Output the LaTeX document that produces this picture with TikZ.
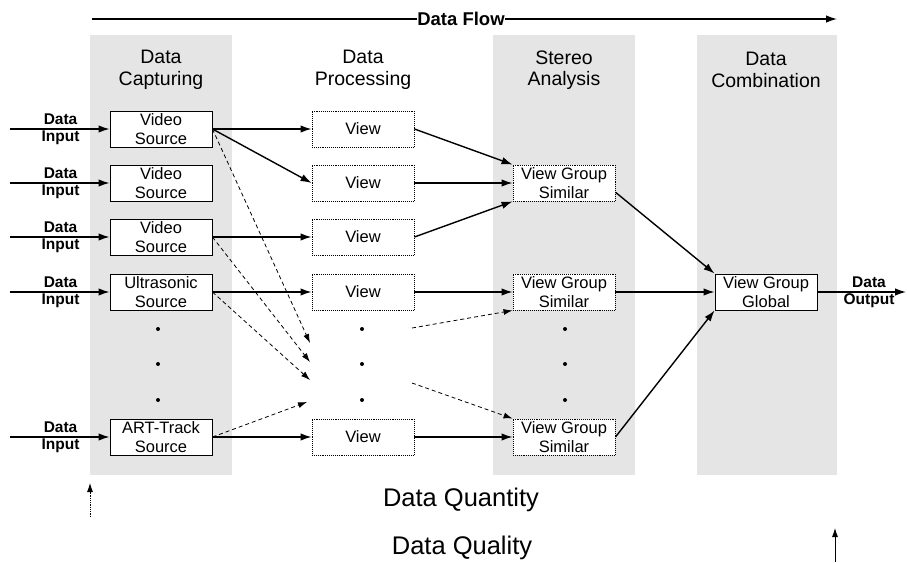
\documentclass[tikz,border=0pt]{standalone}
\usepackage{fontspec}
\setmainfont{Liberation Sans}
\usetikzlibrary{arrows.meta,positioning,calc}
\tikzset{
    box/.style={draw, fill=white, minimum width=102pt, minimum height=36pt, inner sep=1pt,
        align=center, font=\fontsize{16.5}{19.5}\selectfont},
    srcbox/.style={box, line width=0.9pt},
    viewbox/.style={box, densely dotted, line width=0.9pt},
    heading/.style={align=center, inner sep=0pt, font=\fontsize{19.5}{21.5}\selectfont},
    iolabel/.style={align=center, inner sep=0pt, font=\fontsize{15.5}{17}\selectfont\bfseries},
    qlabel/.style={inner sep=0pt, font=\fontsize{25.5}{28}\selectfont},
    colshade/.style={fill=black!10},
    flow/.style={-{Latex[length=11pt,width=7.5pt]}, line width=1.4pt},
    side/.style={-{Latex[length=9pt,width=6pt]}, line width=0.8pt, dash pattern=on 4pt off 3pt},
}
\begin{document}
\begin{tikzpicture}[x=1pt, y=-1pt]
    \useasboundingbox (0,0) rectangle (907,562);
    % shaded columns
    \fill[colshade] (90,35) rectangle (232,475);
    \fill[colshade] (493,35) rectangle (635,475);
    \fill[colshade] (697,35) rectangle (837,475);

    \node[heading] (hcap)  at (161,70) {Data\\Capturing};
    \node[heading] (hproc) at (363,70) {Data\\Processing};
    \node[heading] (hster) at (564,70) {Stereo\\Analysis};
    \node[heading] (hcomb) at (766,70) {Data\\Combination};

    % data flow
    \coordinate (fl) at (92,19);
    \coordinate (fr) at (837,19);
    \node[iolabel, font=\fontsize{18.5}{20}\selectfont\bfseries] (flow) at (461,19) {Data Flow};
    \draw[line width=1.4pt] (fl) -- (flow);
    \draw[flow] (flow) -- (fr);

    \node[srcbox] (src1) at (161,129) {Video\\Source};
    \node[srcbox] (src2) at (161,183) {Video\\Source};
    \node[srcbox] (src3) at (161,237) {Video\\Source};
    \node[srcbox] (src4) at (161,292) {Ultrasonic\\Source};
    \node[srcbox] (src6) at (161,437) {ART-Track\\Source};

    \foreach \n in {1,2,3,4,6}
        \node[viewbox] (view\n) at (363,0 |- src\n) {View};

    \node[viewbox] (sim2) at (564,183) {View Group\\Similar};
    \node[viewbox] (sim4) at (564,292) {View Group\\Similar};
    \node[viewbox] (sim6) at (564,437) {View Group\\Similar};
    \node[srcbox] (glob) at (766,292) {View Group\\Global};

    % inputs
    \foreach \n in {1,2,3,4,6} {
        \path (src\n.west) ++(-100,0) coordinate (in\n);
        \draw[flow] (in\n) -- (src\n);
        \node[iolabel] (lbl\n) at ($(in\n)!0.51!(src\n.west)$) {Data\\Input};
    }
    \coordinate (out) at (906,292);
    \draw[flow] (glob) -- (out);
    \node[iolabel] (lblout) at (869,292) {Data\\Output};

    \foreach \x in {158,362,565}
        \foreach \y in {329,364,400}
            \fill (\x,\y) circle (2pt);

    % solid paths
    \draw[flow] (src1) -- (view1);
    \draw[flow] (src1.east) -- (view2.west);
    \draw[flow] (src3) -- (view3);
    \draw[flow] (src4) -- (view4);
    \draw[flow] (src6) -- (view6);
    \draw[flow] (view1.east) -- (sim2.north west);
    \draw[flow] (view2) -- (sim2);
    \draw[flow] (view3.east) -- (sim2.south west);
    \draw[flow] (view4) -- (sim4);
    \draw[flow] (view6) -- (sim6);
    \draw[flow] ($(sim2.east)!0.5!(sim2.south east)$) -- (glob.north west);
    \draw[flow] (sim4) -- (glob);
    \draw[flow] (sim6.east) -- (glob.south west);

    % dashed paths
    \coordinate (t1) at (310,343);
    \coordinate (t2) at (310,362);
    \coordinate (t3) at (310,380);
    \coordinate (t4) at (307,402);
    \draw[side] (src1.east) -- (t1);
    \draw[side] (src3.east) -- (t2);
    \draw[side] (src4.east) -- (t3);
    \draw[side] (src6.east) -- (t4);
    \coordinate (s1) at (412,328);
    \coordinate (s2) at (412,383);
    \draw[side] (s1) -- (sim4.south west);
    \draw[side] (s2) -- (sim6.north west);

    \node[qlabel, anchor=base] (quant) at (461,506) {Data Quantity};
    \node[qlabel, anchor=base] (qual) at (462,554) {Data Quality};
    \coordinate (qa) at (90,517);
    \coordinate (qb) at (90,483);
    \coordinate (qc) at (835,562);
    \coordinate (qd) at (835,528);
    \draw[-{Latex[length=9pt,width=6pt]}, densely dotted, line width=0.8pt] (qa) -- (qb);
    \draw[-{Latex[length=9pt,width=6pt]}, line width=0.8pt] (qc) -- (qd);
\end{tikzpicture}
\end{document}
